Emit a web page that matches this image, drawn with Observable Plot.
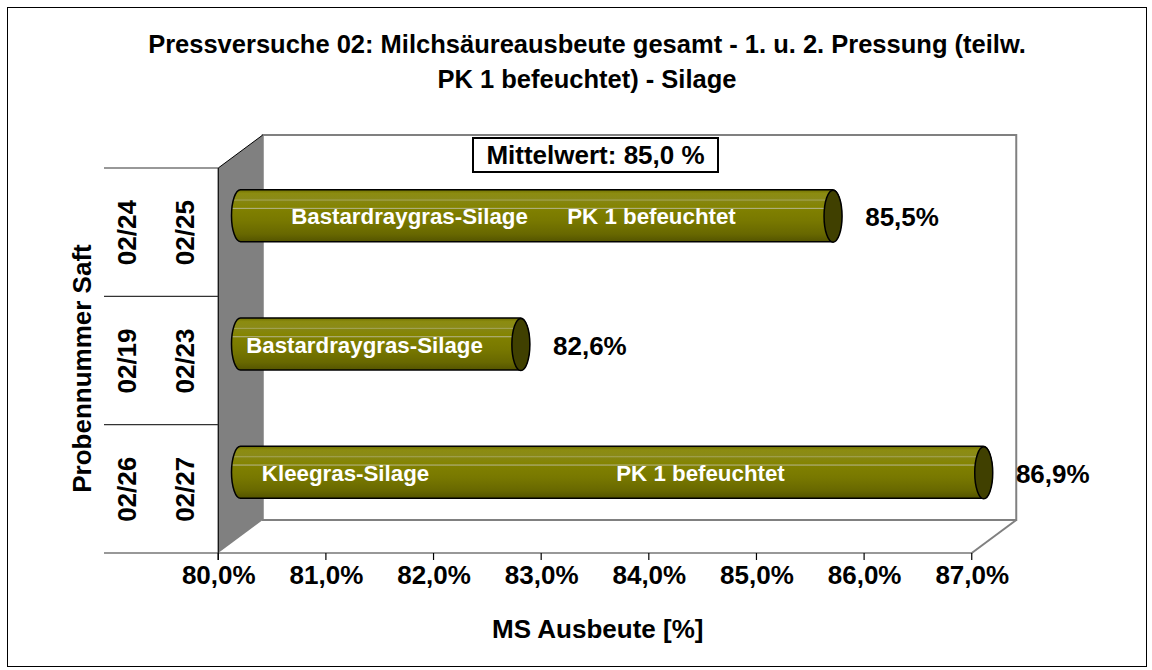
<!DOCTYPE html>
<html><head><meta charset="utf-8">
<script src="https://cdn.jsdelivr.net/npm/d3@7"></script>
<script src="https://cdn.jsdelivr.net/npm/@observablehq/plot@0.6"></script>
<style>
html,body{margin:0;padding:0;background:#fff;}
#wrap{position:relative;width:1152px;height:670px;overflow:hidden;font-family:"Liberation Sans",Arial,sans-serif;color:#000;}
#border{position:absolute;left:7px;top:7px;width:1140px;height:660px;border:1px solid #000;box-sizing:border-box;}
#title{position:absolute;left:0;top:0;width:1152px;height:110px;box-sizing:border-box;padding:27px 0 0 22px;text-align:center;font-weight:bold;font-size:25.5px;line-height:35px;white-space:nowrap;}
#chart{position:absolute;left:0;top:110px;}
#mean{position:absolute;left:472px;top:137px;width:247px;height:36px;box-sizing:border-box;border:2px solid #000;background:#fff;font-weight:bold;font-size:26px;line-height:32px;text-align:center;white-space:nowrap;}
</style></head>
<body><div id="wrap"><div id="border"></div>
<div id="title">Pressversuche 02: Milchsäureausbeute gesamt - 1. u. 2. Pressung (teilw.<br>PK 1 befeuchtet) - Silage</div>
<div id="chart"></div><div id="mean"></div></div>
<script>
// ---- data ----
const probeA = ["02/24", "02/19", "02/26"];
const probeB = ["02/25", "02/23", "02/27"];
const yields = [85.5, 82.6, 86.9];
const silage = ["Bastardraygras-Silage", "Bastardraygras-Silage", "Kleegras-Silage"];
const treatment = ["PK 1 befeuchtet", "", "PK 1 befeuchtet"];
const xTicks = [80, 81, 82, 83, 84, 85, 86, 87];
const xTickLabels = ["80,0%", "81,0%", "82,0%", "83,0%", "84,0%", "85,0%", "86,0%", "87,0%"];
const meanValue = 85.0;
const yTitle = "Probennummer Saft";
const xTitle = "MS Ausbeute [%]";

// ---- layout ----
const W = 1152, H = 560, mT = 41.5, mB = 133.5, mL = 240.5, mR = 158;
const DX = 22.25, DY = 16.5;           // half depth of the 3D box
const barH = 52;
const bandH = (H - mT - mB) / probeA.length;
const inset = (bandH - barH) / 2;
const silageDx = [168.5, 123.5, 104.5];
const treatDx = [410.5, 0, 459.5];
const fmt = v => v.toFixed(1).replace(".", ",");

document.getElementById("mean").textContent = "Mittelwert: " + fmt(meanValue) + " %";

const rows = yields.map((v, i) => ({
  id: probeA[i] + " " + probeB[i], a: probeA[i], b: probeB[i], v,
  silage: silage[i], treatment: treatment[i], label: fmt(v) + "%"
}));
const ids = rows.map(r => r.id);
const xMin = xTicks[0], xMax = xTicks[xTicks.length - 1];

const stops = [
  ["0%", "#707000"], ["7%", "#8c8c10"], ["18%", "#8a8a18"], ["20%", "#a4a458"], ["22%", "#868610"],
  ["34%", "#848400"], ["36%", "#b4b48a"], ["38%", "#808000"], ["60%", "#787800"], ["85%", "#686800"], ["100%", "#545400"]
];

function decor(index, scales, values, dims) {
  const {width, height, marginTop, marginRight, marginBottom, marginLeft} = dims;
  const L = marginLeft, R = width - marginRight, T = marginTop, B = height - marginBottom;
  const g = d3.create("svg:g");
  const lg = g.append("defs").append("linearGradient").attr("id", "cyl")
    .attr("x1", 0).attr("y1", 0).attr("x2", 0).attr("y2", 1);
  stops.forEach(([o, c]) => lg.append("stop").attr("offset", o).attr("stop-color", c));
  // back wall
  g.append("rect").attr("x", L + DX).attr("y", T - DY).attr("width", R - L).attr("height", B - T)
    .attr("fill", "white").attr("stroke", "#808080").attr("stroke-width", 2);
  // floor right edge
  g.append("line").attr("x1", R + DX).attr("y1", B - DY).attr("x2", R - DX).attr("y2", B + DY)
    .attr("stroke", "#808080").attr("stroke-width", 2);
  // floor front edge
  g.append("line").attr("x1", L - DX).attr("y1", B + DY).attr("x2", R - DX).attr("y2", B + DY)
    .attr("stroke", "#333").attr("stroke-width", 1.2);
  // left wall
  g.append("polygon").attr("points", [[L - DX, T + DY], [L + DX, T - DY], [L + DX, B - DY], [L - DX, B + DY]].map(p => p.join(",")).join(" "))
    .attr("fill", "#808080");
  g.append("line").attr("x1", L - DX).attr("y1", T + DY).attr("x2", L + DX).attr("y2", T - DY)
    .attr("stroke", "#000").attr("stroke-width", 1);
  g.append("line").attr("x1", L - DX).attr("y1", T + DY).attr("x2", L - DX).attr("y2", B + DY + 7)
    .attr("stroke", "#000").attr("stroke-width", 1.2);
  // category table lines
  const n = ids.length;
  for (let i = 0; i <= n; i++) {
    const y = T + i * (B - T) / n + DY;
    g.append("line").attr("x1", 104).attr("y1", y).attr("x2", L - DX).attr("y2", y)
      .attr("stroke", "#333").attr("stroke-width", 1.2);
  }
  // x ticks on the front edge
  xTicks.forEach(t => {
    const x = scales.x(t) - DX;
    g.append("line").attr("x1", x).attr("y1", B + DY).attr("x2", x).attr("y2", B + DY + 7)
      .attr("stroke", "#000").attr("stroke-width", 1.2);
  });
  return g.node();
}

const capSymbol = {
  draw(ctx) {
    const rx = 9, ry = barH / 2, k = 0.5523;
    ctx.moveTo(rx, 0);
    ctx.bezierCurveTo(rx, ry * k, rx * k, ry, 0, ry);
    ctx.bezierCurveTo(-rx * k, ry, -rx, ry * k, -rx, 0);
    ctx.bezierCurveTo(-rx, -ry * k, -rx * k, -ry, 0, -ry);
    ctx.bezierCurveTo(rx * k, -ry, rx, -ry * k, rx, 0);
    ctx.closePath();
  }
};

const bold = {fontWeight: "bold", fill: "black", textAnchor: "middle"};
const marks = [
  decor,
  Plot.barX(rows, {x1: () => xMin, x2: "v", y: "id", insetTop: inset, insetBottom: inset,
    insetLeft: -9, insetRight: -9, rx: 9, ry: barH / 2,
    fill: "url(#cyl)", stroke: "black", strokeWidth: 1.5}),
  Plot.dot(rows, {x: "v", y: "id", symbol: capSymbol, fill: "#404000", stroke: "black", strokeWidth: 1.5}),
  Plot.text(rows, {x: "v", y: "id", text: "label", dx: 69, dy: 2, fontSize: 26, ...bold}),
  Plot.text(rows, {y: "id", frameAnchor: "left", text: "a", rotate: -90, dx: -113.5, dy: DY, fontSize: 26, ...bold}),
  Plot.text(rows, {y: "id", frameAnchor: "left", text: "b", rotate: -90, dx: -55.5, dy: DY, fontSize: 26, ...bold}),
  Plot.text([yTitle], {frameAnchor: "left", text: d => d, rotate: -90, dx: -158.5, dy: 24, fontSize: 26, ...bold}),
  Plot.text([xTitle], {frameAnchor: "bottom", text: d => d, dx: -20, dy: 100.5, fontSize: 26, ...bold}),
  Plot.text(xTicks, {x: d => d, frameAnchor: "bottom", text: (d, i) => xTickLabels[i], dx: -DX, dy: 46.5, fontSize: 26, ...bold})
];
rows.forEach((r, i) => {
  marks.push(Plot.text([r], {y: "id", frameAnchor: "left", textAnchor: "middle", text: "silage", dx: silageDx[i], dy: 1, fontSize: 22.3, fontWeight: "bold", fill: "white"}));
  if (r.treatment) marks.push(Plot.text([r], {y: "id", frameAnchor: "left", textAnchor: "middle", text: "treatment", dx: treatDx[i], dy: 1, fontSize: 22.3, fontWeight: "bold", fill: "white"}));
});

const chart = Plot.plot({
  width: W, height: H,
  marginTop: mT, marginBottom: mB, marginLeft: mL, marginRight: mR,
  x: {domain: [xMin, xMax], axis: null},
  y: {domain: ids, axis: null, padding: 0, round: false},
  style: {fontFamily: "'Liberation Sans', Arial, sans-serif", background: "transparent", overflow: "visible"},
  marks
});
document.getElementById("chart").appendChild(chart);
</script>
</body></html>
